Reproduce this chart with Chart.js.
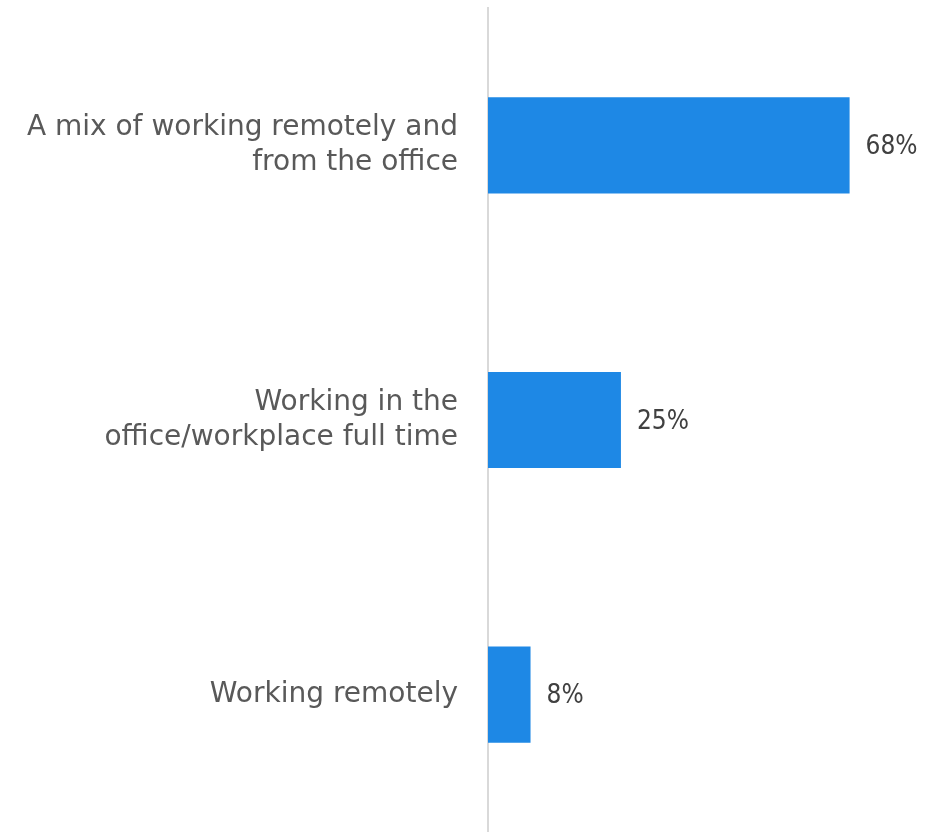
<!DOCTYPE html>
<html>
<head>
<meta charset="utf-8">
<script src="https://cdn.jsdelivr.net/npm/chart.js@4"></script>
<style>
  html, body { margin: 0; padding: 0; background: #fff; }
  #wrap { width: 944px; height: 832px; }
</style>
</head>
<body>
<div id="wrap"><canvas id="barChart"></canvas></div>
<script>
var categories = [
    ['A mix of working remotely and', 'from the office'],
    ['Working in the', 'office/workplace full time'],
    'Working remotely'
];
var shares = [68, 25, 8];
var valueLabels = ['68%', '25%', '8%'];

var labelPlugin = {
    id: 'valueLabels',
    afterDatasetsDraw: function (chart) {
        var ctx = chart.ctx;
        var meta = chart.getDatasetMeta(0);
        ctx.save();
        ctx.font = '26px "DejaVu Sans Condensed", "DejaVu Sans", sans-serif';
        ctx.fillStyle = '#404040';
        ctx.textBaseline = 'middle';
        ctx.textAlign = 'left';
        meta.data.forEach(function (bar, i) {
            ctx.fillText(valueLabels[i], bar.x + 16, bar.y + 2);
        });
        ctx.restore();
    }
};

var ctx = document.getElementById('barChart').getContext('2d');
var myChart = new Chart(ctx, {
    type: 'bar',
    data: {
        labels: categories,
        datasets: [{
            data: shares,
            backgroundColor: '#1e88e5',
            borderWidth: 0,
            barPercentage: 0.35,
            categoryPercentage: 1
        }]
    },
    plugins: [labelPlugin],
    options: {
        indexAxis: 'y',
        responsive: true,
        maintainAspectRatio: false,
        animation: false,
        layout: { padding: { top: 8, right: 4, bottom: -4, left: 0 } },
        plugins: {
            legend: { display: false },
            tooltip: { enabled: false }
        },
        scales: {
            x: {
                display: false,
                min: 0,
                max: 85
            },
            y: {
                grid: { display: false },
                border: { display: true, color: '#d9d9d9', width: 2 },
                afterFit: function (scale) {
                    scale.width = 488;
                    scale.paddingTop = 0;
                    scale.paddingBottom = 0;
                },
                ticks: {
                    color: '#595959',
                    padding: 22,
                    font: { family: '"DejaVu Sans", sans-serif', size: 28, lineHeight: 1.25 }
                }
            }
        }
    }
});
</script>
</body>
</html>
